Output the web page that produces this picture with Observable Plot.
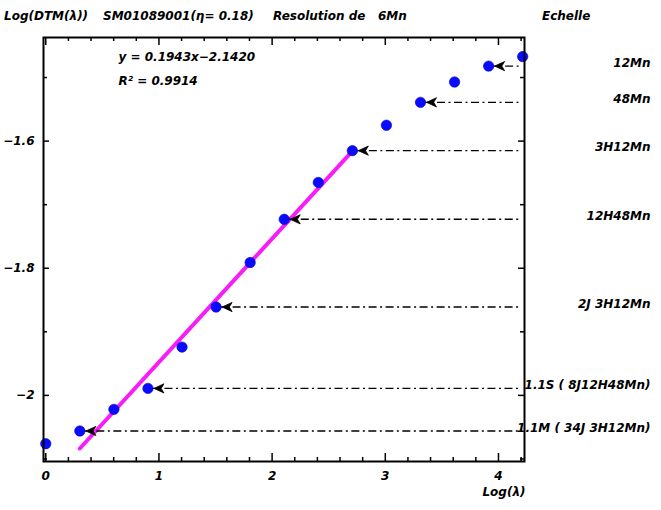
<!DOCTYPE html>
<html><head><meta charset="utf-8">
<script src="https://cdn.jsdelivr.net/npm/d3@7"></script>
<script src="https://cdn.jsdelivr.net/npm/@observablehq/plot@0.6"></script>
<style>
body{margin:0;background:#fff;}
#wrap{width:661px;}
#title{position:relative;height:28px;font:italic bold 12px "DejaVu Sans";white-space:pre;color:#000;}
#title span{position:absolute;top:9px;line-height:14px;}
#chart svg{display:block;}
</style></head><body>
<div id="wrap"><div id="title"></div><div id="chart"></div></div>
<script>
// ---- data ----
const titleParts = ["Log(DTM(λ))", "SM01089001(η= 0.18)", "Resolution de   6Mn", "Echelle"];
const logLambda = [0, 0.301, 0.602, 0.903, 1.204, 1.505, 1.806, 2.107, 2.408, 2.709, 3.010, 3.311, 3.612, 3.913, 4.214];
const logDTM    = [-2.076, -2.056, -2.022, -1.989, -1.924, -1.861, -1.791, -1.723, -1.665, -1.615, -1.575, -1.539, -1.507, -1.482, -1.467];
const scaleX      = [0.301, 0.903, 1.505, 2.107, 2.709, 3.311, 3.913];
const scaleY      = [-2.056, -1.989, -1.861, -1.723, -1.615, -1.539, -1.482];
const scaleLabels = ["1.1M ( 34J 3H12Mn)", "1.1S ( 8J12H48Mn)", "2J 3H12Mn", "12H48Mn", "3H12Mn", "48Mn", "12Mn"];
const slope = 0.1943, intercept = -2.1420, r2 = 0.9914;
const fitRange = [0.301, 2.709];
const xDomain = [-0.02, 4.23];
const yDomain = [-2.104, -1.437];
const xTicks = [0, 1, 2, 3, 4];
const xMinorTicks = [0.2, 0.4, 0.6, 0.8, 1.2, 1.4, 1.6, 1.8, 2.2, 2.4, 2.6, 2.8, 3.2, 3.4, 3.6, 3.8, 4.2];
const yTicks = [-2, -1.8, -1.6];
const yMinorTicks = [-2.1, -1.9, -1.7, -1.5];
const xAxisLabel = "Log(λ)";

// ---- title ----
const titleLeft = [4, 103, 273, 542];
const tdiv = document.getElementById("title");
titleParts.forEach((t, i) => {
  const s = document.createElement("span");
  s.textContent = t; s.style.left = titleLeft[i] + "px";
  tdiv.appendChild(s);
});

// ---- chart ----
const W = 661, H = 482, mT = 9, mB = 49, mL = 43, mR = 137;
const fh = H - mT - mB, fw = W - mL - mR;
const points = logLambda.map((x, i) => ({x, y: logDTM[i]}));
const arrows = scaleX.map((x, i) => ({x, y: scaleY[i], label: scaleLabels[i], xEnd: xDomain[1]}));
const fit = fitRange.map(x => ({x, y: slope * x + intercept}));
const eqText = [`y = ${slope.toFixed(4)}x\u2212${Math.abs(intercept).toFixed(4)}`];
const r2Text = [`R\u00B2 = ${r2.toFixed(4)}`];

// concave arrowhead pointing left, centred on its own middle
const arrowHead = {
  draw(ctx) {
    ctx.moveTo(-5, 0);
    ctx.lineTo(5, -4.6);
    ctx.lineTo(2.2, 0);
    ctx.lineTo(5, 4.6);
    ctx.closePath();
  }
};
const fmt = d3.format("");
const tfont = {fontStyle: "italic", fontWeight: "bold", fontSize: 12};

const chart = Plot.plot({
  width: W, height: H,
  marginTop: mT, marginBottom: mB, marginLeft: mL, marginRight: mR,
  style: {fontFamily: '"DejaVu Sans"', fontSize: "12px", fontStyle: "italic", fontWeight: "bold", color: "#000", background: "#fff", overflow: "visible"},
  x: {domain: xDomain},
  y: {domain: yDomain},
  marks: [
    // inward ticks
    Plot.ruleX(xTicks, {x: d => d, insetTop: fh - 8, strokeWidth: 1.5}),
    Plot.ruleX(xTicks, {x: d => d, insetBottom: fh - 8, strokeWidth: 1.5}),
    Plot.ruleX(xMinorTicks, {x: d => d, insetTop: fh - 4, strokeWidth: 1.5}),
    Plot.ruleX(xMinorTicks, {x: d => d, insetBottom: fh - 4, strokeWidth: 1.5}),
    Plot.ruleY(yTicks, {y: d => d, insetRight: fw - 6, strokeWidth: 1.5}),
    Plot.ruleY(yTicks, {y: d => d, insetLeft: fw - 6, strokeWidth: 1.5}),
    Plot.ruleY(yMinorTicks, {y: d => d, insetRight: fw - 4, strokeWidth: 1.5}),
    Plot.ruleY(yMinorTicks, {y: d => d, insetLeft: fw - 4, strokeWidth: 1.5}),
    Plot.axisX({ticks: xTicks, tickSize: 0, tickPadding: 10, tickFormat: fmt, label: null, ...tfont}),
    Plot.axisY({ticks: yTicks, tickSize: 0, tickPadding: 9, tickFormat: fmt, label: null, ...tfont}),
    // regression line
    Plot.line(fit, {x: "x", y: "y", stroke: "#f81cf8", strokeWidth: 4, strokeLinecap: "round"}),
    // dash-dot guide lines
    Plot.ruleY(arrows, {y: "y", x1: "x", x2: "xEnd", insetRight: 5, stroke: "#000", strokeWidth: 1.4, strokeDasharray: "8,3.5,2,3.5"}),
    // data points
    Plot.dot(points, {x: "x", y: "y", r: 5.2, fill: "#0a0aff", stroke: "#0000cc", strokeWidth: 0.6}),
    // arrow heads
    Plot.dot(arrows, {x: "x", y: "y", r: 5, symbol: arrowHead, fill: "#000", stroke: "#000", strokeWidth: 0.8, strokeLinejoin: "round", dx: 11}),
    // scale labels
    Plot.text(arrows, {y: "y", text: "label", frameAnchor: "right", dx: 126, dy: -3, textAnchor: "end", ...tfont}),
    // equation
    Plot.text(eqText, {text: d => d, frameAnchor: "top-left", dx: 75, dy: 20, textAnchor: "start", lineAnchor: "middle", ...tfont}),
    Plot.text(r2Text, {text: d => d, frameAnchor: "top-left", dx: 75, dy: 44, textAnchor: "start", lineAnchor: "middle", ...tfont}),
    Plot.text([xAxisLabel], {text: d => d, frameAnchor: "bottom-right", dx: 1, dy: 31, textAnchor: "end", lineAnchor: "middle", ...tfont}),
    Plot.frame({stroke: "#000", strokeWidth: 2})
  ]
});
document.getElementById("chart").appendChild(chart);
</script>
</body></html>
